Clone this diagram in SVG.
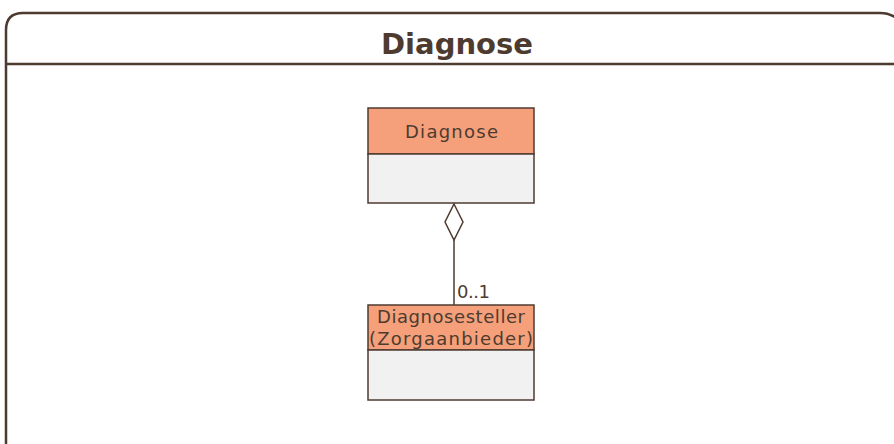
<svg xmlns="http://www.w3.org/2000/svg" width="894" height="444" viewBox="0 0 894 444">
<style>
.frame{fill:none;stroke:#4E3B30;stroke-width:2.5}
.hdr{fill:#F5A07A;stroke:#4E3B30;stroke-width:1.5}
.body{fill:#F1F1F1;stroke:#4E3B30;stroke-width:1.5}
.t{font-family:"DejaVu Sans","Liberation Sans",Arial,sans-serif;fill:#4E3B30}
.conn{fill:none;stroke:#4E3B30;stroke-width:1.5}
</style>
<rect width="894" height="444" fill="#FFFFFF"/>
<g id="frame">
<path class="frame" d="M6,450 L6,30 Q6,13 23,13 L880,13 Q893,13 900,22"/>
<line class="frame" x1="6" y1="64" x2="900" y2="64"/>
<text class="t" x="381" y="54" font-size="28" font-weight="bold" textLength="152" lengthAdjust="spacingAndGlyphs">Diagnose</text>
</g>
<g id="diagnose">
<rect class="hdr" x="368" y="108" width="166" height="46"/>
<rect class="body" x="368" y="154" width="166" height="49"/>
<text class="t" x="405" y="138" font-size="18" textLength="93" lengthAdjust="spacing">Diagnose</text>
</g>
<g id="diagnosesteller">
<rect class="hdr" x="368" y="305" width="166" height="45"/>
<rect class="body" x="368" y="350" width="166" height="50"/>
<text class="t" x="377" y="323" font-size="18" textLength="148" lengthAdjust="spacing">Diagnosesteller</text>
<text class="t" x="369" y="345" font-size="18" textLength="164" lengthAdjust="spacing">(Zorgaanbieder)</text>
</g>
<g id="connectors">
<path class="conn" d="M454,204 L463,222 L454,240 L445,222 Z" fill="#FFFFFF"/>
<line class="conn" x1="454" y1="240" x2="454" y2="305"/>
<text class="t" x="457" y="298" font-size="18" textLength="33" lengthAdjust="spacing">0..1</text>
</g>
</svg>
